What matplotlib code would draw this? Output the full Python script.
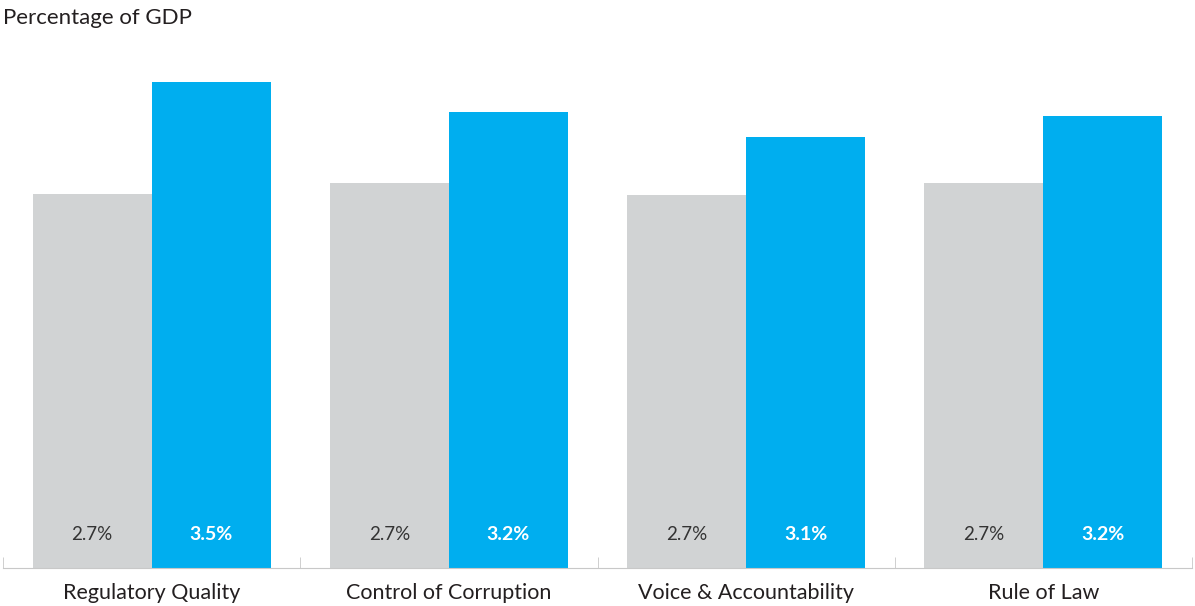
import numpy as np
import matplotlib
matplotlib.use("Agg")
import matplotlib.pyplot as plt

plt.rcParams['font.family'] = ['Lato', 'DejaVu Sans']

categories = ['Regulatory Quality', 'Control of Corruption', 'Voice & Accountability', 'Rule of Law']
grey_vals = [2.69, 2.77, 2.68, 2.77]
blue_vals = [3.50, 3.28, 3.10, 3.25]
grey_labels = ['2.7%', '2.7%', '2.7%', '2.7%']
blue_labels = ['3.5%', '3.2%', '3.1%', '3.2%']

fig = plt.figure(figsize=(11.95, 6.06), dpi=100)
ax = fig.add_axes([3 / 1195, 38 / 606, 1189 / 1195, 556 / 606])

x = np.arange(len(categories))
w = 0.4
ax.bar(x - w / 2, grey_vals, w, color='#d1d3d4')
ax.bar(x + w / 2, blue_vals, w, color='#00aeef')

for i in range(len(categories)):
    ax.text(x[i] - w / 2, 0.24, grey_labels[i], ha='center', va='center',
            fontsize=13.5, color='#333333')
    ax.text(x[i] + w / 2, 0.24, blue_labels[i], ha='center', va='center',
            fontsize=14, color='white', fontweight='bold')

ax.set_xlim(-0.5, len(categories) - 0.5)
ax.set_ylim(0, 4.0)
for s in ['top', 'right', 'left']:
    ax.spines[s].set_visible(False)
ax.spines['bottom'].set_color('#c8c8c8')
ax.set_yticks([])
ax.set_xticks(x)
ax.set_xticklabels(categories, fontsize=15.5, color='#231f20')
ax.tick_params(axis='x', length=0, pad=11)
ax.set_xticks(np.arange(-0.5, len(categories)), minor=True)
ax.tick_params(axis='x', which='minor', direction='in', length=8, color='#c8c8c8')

fig.text(3 / 1195, 1 - 18 / 606, 'Percentage of GDP', ha='left', va='center',
         fontsize=16, color='#231f20')

fig.savefig('out.png', dpi=100)
